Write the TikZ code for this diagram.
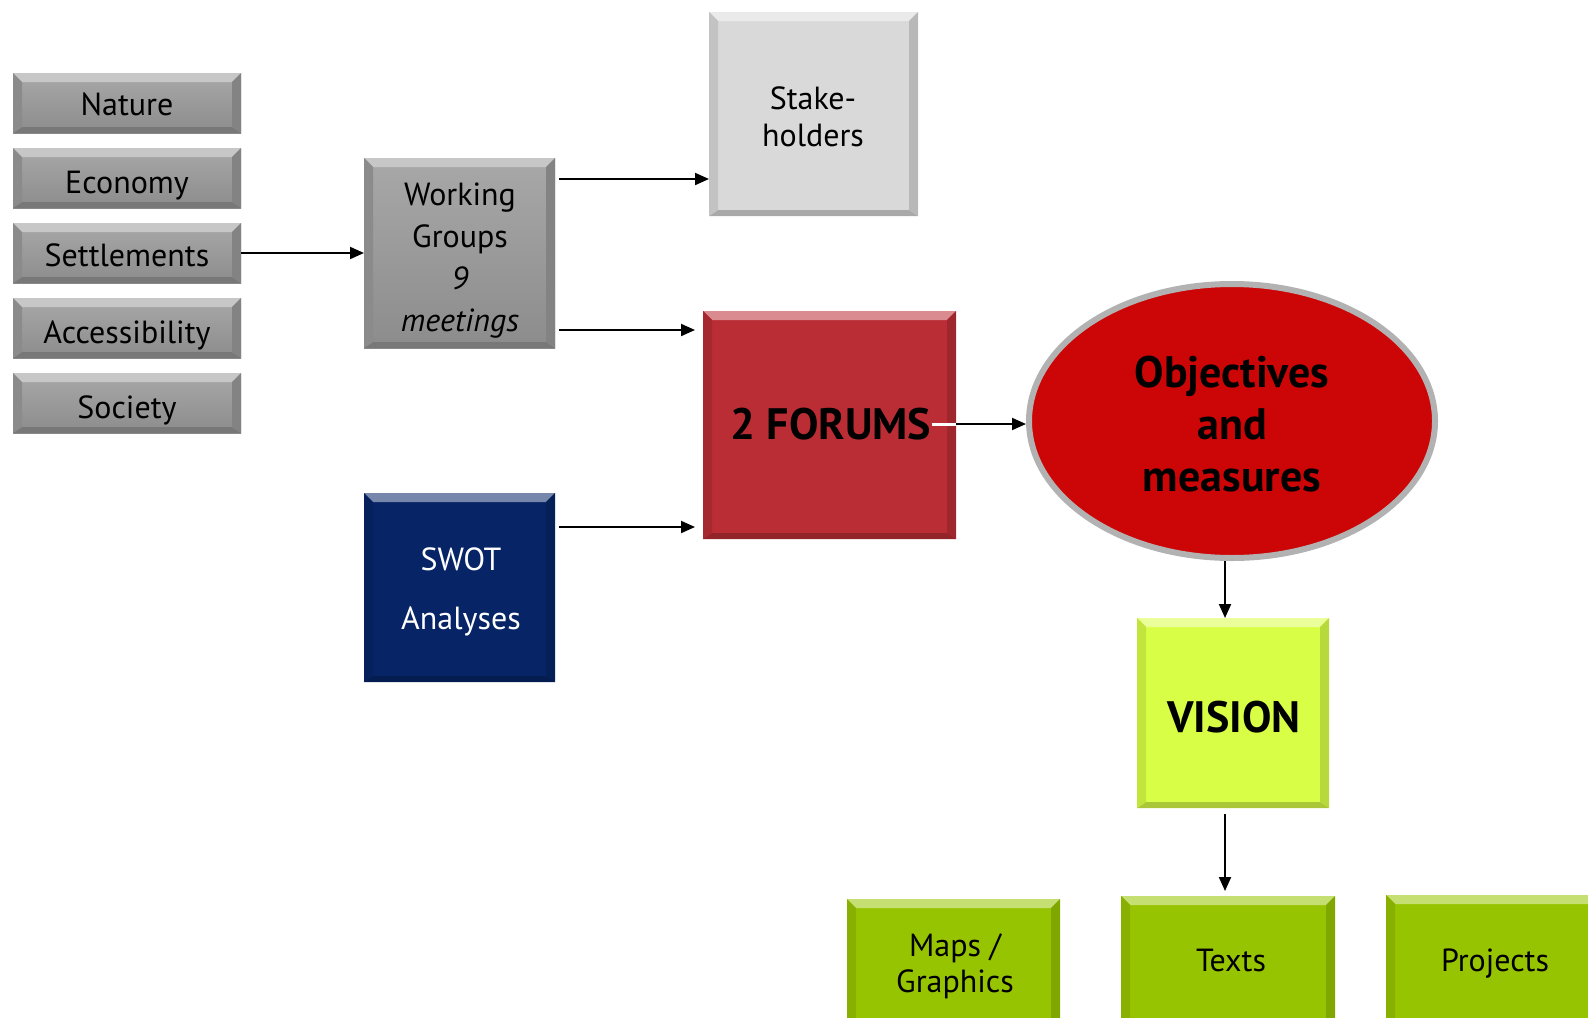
\documentclass[tikz,border=0pt]{standalone}
\usepackage{fontspec}
\setmainfont{PT Sans}
\usetikzlibrary{arrows.meta,shapes.geometric}
\definecolor{gtop}{HTML}{A8A8A8}
\definecolor{gbot}{HTML}{8C8C8C}
\definecolor{gbase}{HTML}{9A9A9A}
\definecolor{lgray}{HTML}{D9D9D9}
\definecolor{forumred}{HTML}{BA2D35}
\definecolor{ellred}{HTML}{CC0606}
\definecolor{navy}{HTML}{062466}
\definecolor{visiong}{HTML}{D8FF45}
\definecolor{leafg}{HTML}{97C400}
\newcommand\bevel[2]{%
  \fill[#2!55!white] (#1.north west) -- (#1.north east) -- ([shift={(-4.5pt,-4.5pt)}]#1.north east) -- ([shift={(4.5pt,-4.5pt)}]#1.north west) -- cycle;
  \fill[#2!78!black] (#1.south west) -- (#1.south east) -- ([shift={(-4.5pt,3pt)}]#1.south east) -- ([shift={(4.5pt,3pt)}]#1.south west) -- cycle;
  \fill[#2!90!black] (#1.north west) -- ([shift={(4.5pt,-4.5pt)}]#1.north west) -- ([shift={(4.5pt,3pt)}]#1.south west) -- (#1.south west) -- cycle;
  \fill[#2!85!black] (#1.north east) -- ([shift={(-4.5pt,-4.5pt)}]#1.north east) -- ([shift={(-4.5pt,3pt)}]#1.south east) -- (#1.south east) -- cycle;
}
\begin{document}
\begin{tikzpicture}[x=0.5pt,y=-0.5pt,
  box/.style={rectangle, inner sep=0pt, outer sep=0pt, align=center, font=\fontsize{16}{21}\selectfont},
  one/.style={box, text height=11.5pt, text depth=0pt},
  side/.style={box, minimum width=114pt, minimum height=30pt, top color=gtop, bottom color=gbot},
  big/.style={font=\fontsize{22}{26}\selectfont\bfseries, align=center, inner sep=0pt},
  arr/.style={-{Triangle[length=7pt,width=6pt]}, line width=1pt}]
\useasboundingbox (0,0) rectangle (1588,1017);
\clip (0,0) rectangle (1588,1017);

% left column
\node[side] (nature) at (127,103) {};
\node[side] (economy) at (127,178) {};
\node[side] (settle) at (127,253) {};
\node[side] (access) at (127,328) {};
\node[side] (society) at (127,403) {};
\foreach \n in {nature,economy,settle,access,society} {\bevel{\n}{gbase}}
\node[one] at ([yshift=-0.5pt]nature) {Nature};
\node[one] at ([yshift=-2pt]economy) {Economy};
\node[one] at ([yshift=-1pt]settle) {Settlements};
\node[one] at ([yshift=-2pt]access) {Accessibility};
\node[one] at ([yshift=-2pt]society) {Society};

% working groups
\node[box, minimum width=95.5pt, minimum height=95pt, top color=gtop, bottom color=gbot] (wg) at (459.5,253) {};
\bevel{wg}{gbase}
\node[box] at (460,261) {Working\\Groups\\\textit{9}\\\textit{meetings}};

% stakeholders
\node[box, minimum width=104.5pt, minimum height=102pt, fill=lgray] (stake) at (813.5,114) {};
\bevel{stake}{lgray}
\node[box, font=\fontsize{16}{18.75}\selectfont] at (813,117) {Stake-\\holders};

% forums
\node[box, minimum width=126.5pt, minimum height=114pt, fill=forumred] (forum) at (829.5,425) {};
\bevel{forum}{forumred}
\node[big] (ftext) at (831,424) {2 FORUMS};

% SWOT
\node[box, minimum width=95.5pt, minimum height=94.5pt, fill=navy] (swot) at (459.5,587.5) {};
\bevel{swot}{navy}
\node[box, text=white, font=\fontsize{16}{29.5}\selectfont] at (461,592) {SWOT\\Analyses};

% ellipse
\node[ellipse, minimum width=203pt, minimum height=137pt, fill=ellred, draw=black!30, line width=3pt, inner sep=0pt] (ell) at (1232,421) {};
\node[big] at (1232,424) {Objectives\\and\\measures};

% vision
\node[box, minimum width=96pt, minimum height=95pt, fill=visiong] (vision) at (1233,713) {};
\bevel{vision}{visiong}
\node[big] at (1234,717) {VISION};

% bottom
\node[box, minimum width=106.5pt, minimum height=65pt, fill=leafg] (maps) at (953.5,964) {};
\node[box, minimum width=107pt, minimum height=65pt, fill=leafg] (texts) at (1228,961) {};
\node[box, minimum width=109pt, minimum height=65pt, fill=leafg] (projects) at (1495,960) {};
\foreach \n in {maps,texts,projects} {\bevel{\n}{leafg}}
\node[box, font=\fontsize{16}{18}\selectfont] at (955,966) {Maps /\\Graphics};
\node[one] at (1231,960) {Texts};
\node[one] at (1495,960) {Projects};

% connectors
\draw[arr] (settle.east) -- (wg.west);
\draw[arr] ([shift={(2pt,37pt)}]wg.east) -- ([yshift=37pt]wg.east -| stake.west);
\draw[arr] ([shift={(2pt,-38.5pt)}]wg.east) -- ([shift={(-4pt,-38.5pt)}]wg.east -| forum.west);
\draw[arr] ([shift={(2pt,30.25pt)}]swot.east) -- ([shift={(-4pt,30.25pt)}]swot.east -| forum.west);
\draw[white, line width=1.5pt] (ftext.east) -- (ftext.east -| forum.east);
\draw[arr] (ftext.east -| forum.east) -- (ftext.east -| ell.west);
\draw[arr] ([xshift=-3.5pt]ell.south) -- ([xshift=-4pt]vision.north);
\draw[arr] ([shift={(-4pt,-3pt)}]vision.south) -- ([shift={(-1.5pt,2.5pt)}]texts.north);
\end{tikzpicture}
\end{document}
